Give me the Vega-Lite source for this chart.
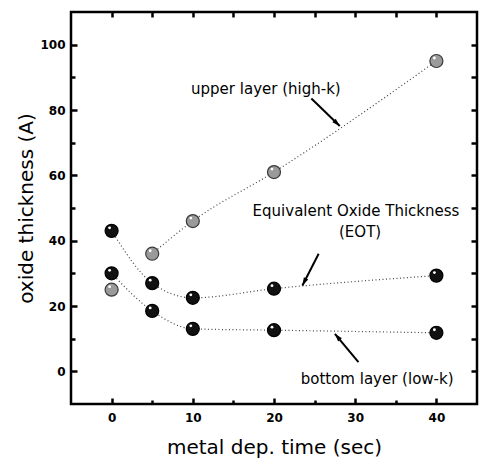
{
  "$schema": "https://vega.github.io/schema/vega-lite/v6.json",
  "autosize": "none",
  "width": 406,
  "height": 392,
  "padding": {"left": 71, "top": 12, "right": 2, "bottom": 55},
  "background": "white",
  "config": {
    "view": {"stroke": "black", "strokeWidth": 2.5},
    "axis": {
      "domain": false,
      "grid": false,
      "tickColor": "black",
      "tickWidth": 2.5,
      "tickSize": 6,
      "offset": -6,
      "labelFont": "DejaVu Sans",
      "labelFontWeight": "bold",
      "labelFontSize": 12,
      "labelColor": "black",
      "titleFont": "DejaVu Sans",
      "titleFontSize": 20,
      "titleFontWeight": "normal",
      "titleColor": "black"
    }
  },
  "datasets": {
    "pts": [
      {"series": "upper", "t": 0, "thk": 25},
      {"series": "upper", "t": 5, "thk": 36},
      {"series": "upper", "t": 10, "thk": 46},
      {"series": "upper", "t": 20, "thk": 61},
      {"series": "upper", "t": 40, "thk": 95},
      {"series": "eot", "t": 0, "thk": 43},
      {"series": "eot", "t": 5, "thk": 27},
      {"series": "eot", "t": 10, "thk": 22.5},
      {"series": "eot", "t": 20, "thk": 25.3},
      {"series": "eot", "t": 40, "thk": 29.3},
      {"series": "bottom", "t": 0, "thk": 30},
      {"series": "bottom", "t": 5, "thk": 18.5},
      {"series": "bottom", "t": 10, "thk": 13},
      {"series": "bottom", "t": 20, "thk": 12.6},
      {"series": "bottom", "t": 40, "thk": 11.8}
    ],
    "labels": [
      {"label": "upper layer (high-k)", "t": 19, "thk": 86.3},
      {"label": "Equivalent Oxide Thickness", "t": 30.1, "thk": 49},
      {"label": "(EOT)", "t": 30.6, "thk": 42.6},
      {"label": "bottom layer (low-k)", "t": 32.7, "thk": -2.4}
    ],
    "arrows": [
      {"name": "upper", "t": 24.6, "thk": 83.5, "t2": 28.1, "thk2": 75.1},
      {"name": "eot", "t": 25.5, "thk": 36, "t2": 23.5, "thk2": 26.3},
      {"name": "bottom", "t": 30.4, "thk": 2.8, "t2": 27.5, "thk2": 11.5}
    ]
  },
  "resolve": {"axis": {"x": "independent", "y": "independent"}},
  "layer": [
    {
      "data": {"name": "pts"},
      "transform": [{"filter": "datum.series != 'upper' || datum.t >= 5"}],
      "mark": {"type": "line", "interpolate": "monotone", "strokeDash": [1, 2.5], "strokeWidth": 1.2, "color": "#444"},
      "encoding": {
        "x": {"field": "t", "type": "quantitative", "scale": {"domain": [-5, 45], "nice": false, "zero": false},
              "axis": {"orient": "bottom", "values": [0, 10, 20, 30, 40], "title": "metal dep. time (sec)", "labelPadding": 8, "titlePadding": 14}},
        "y": {"field": "thk", "type": "quantitative", "scale": {"domain": [-10, 110], "nice": false, "zero": false},
              "axis": {"orient": "left", "values": [0, 20, 40, 60, 80, 100], "title": "oxide thickness (A)", "labelPadding": 6, "titlePadding": 3}},
        "detail": {"field": "series"}
      }
    },
    {
      "data": {"name": "arrows"},
      "mark": {"type": "rule", "color": "black", "strokeWidth": 2},
      "encoding": {
        "x": {"field": "t", "type": "quantitative", "axis": {"orient": "top", "values": [0, 5, 10, 15, 20, 25, 30, 35, 40], "labels": false, "title": null, "tickSize": 5, "offset": -5}},
        "y": {"field": "thk", "type": "quantitative", "axis": {"orient": "right", "values": [0, 10, 20, 30, 40, 50, 60, 70, 80, 90, 100], "labels": false, "title": null, "tickSize": 6, "offset": -6}},
        "x2": {"field": "t2"},
        "y2": {"field": "thk2"}
      }
    },
    {
      "data": {"name": "arrows"},
      "transform": [{"filter": "datum.name == 'upper'"}],
      "mark": {"type": "point", "shape": "M0,0L-0.4,1.3L0.4,1.3Z", "filled": true, "color": "black", "opacity": 1, "size": 150, "angle": 134},
      "encoding": {
        "x": {"field": "t2", "type": "quantitative", "axis": {"orient": "bottom", "values": [5, 15, 25, 35], "labels": false, "title": null, "tickSize": 4, "offset": -4}},
        "y": {"field": "thk2", "type": "quantitative", "axis": {"orient": "left", "values": [10, 30, 50, 70, 90], "labels": false, "title": null, "tickSize": 4, "offset": -4}}
      }
    },
    {
      "data": {"name": "arrows"},
      "transform": [{"filter": "datum.name == 'eot'"}],
      "mark": {"type": "point", "shape": "M0,0L-0.4,1.3L0.4,1.3Z", "filled": true, "color": "black", "opacity": 1, "size": 150, "angle": 207},
      "encoding": {
        "x": {"field": "t2", "type": "quantitative", "axis": null},
        "y": {"field": "thk2", "type": "quantitative", "axis": null}
      }
    },
    {
      "data": {"name": "arrows"},
      "transform": [{"filter": "datum.name == 'bottom'"}],
      "mark": {"type": "point", "shape": "M0,0L-0.4,1.3L0.4,1.3Z", "filled": true, "color": "black", "opacity": 1, "size": 150, "angle": 320},
      "encoding": {
        "x": {"field": "t2", "type": "quantitative", "axis": null},
        "y": {"field": "thk2", "type": "quantitative", "axis": null}
      }
    },
    {
      "data": {"name": "pts"},
      "mark": {"type": "circle", "size": 170, "opacity": 1, "strokeWidth": 1.2},
      "encoding": {
        "x": {"field": "t", "type": "quantitative", "axis": null},
        "y": {"field": "thk", "type": "quantitative", "axis": null},
        "fill": {"field": "series", "type": "nominal", "scale": {"domain": ["upper", "eot", "bottom"], "range": ["#9a9a9a", "#111111", "#111111"]}, "legend": null},
        "stroke": {"field": "series", "type": "nominal", "scale": {"domain": ["upper", "eot", "bottom"], "range": ["#3a3a3a", "#000000", "#000000"]}, "legend": null}
      }
    },
    {
      "data": {"name": "pts"},
      "mark": {"type": "circle", "size": 8, "opacity": 1, "color": "white", "xOffset": -2, "yOffset": -3},
      "encoding": {
        "x": {"field": "t", "type": "quantitative", "axis": null},
        "y": {"field": "thk", "type": "quantitative", "axis": null}
      }
    },
    {
      "data": {"name": "labels"},
      "mark": {"type": "text", "font": "DejaVu Sans", "fontSize": 15, "color": "black", "align": "center", "baseline": "middle"},
      "encoding": {
        "x": {"field": "t", "type": "quantitative", "axis": null},
        "y": {"field": "thk", "type": "quantitative", "axis": null},
        "text": {"field": "label"}
      }
    }
  ]
}
